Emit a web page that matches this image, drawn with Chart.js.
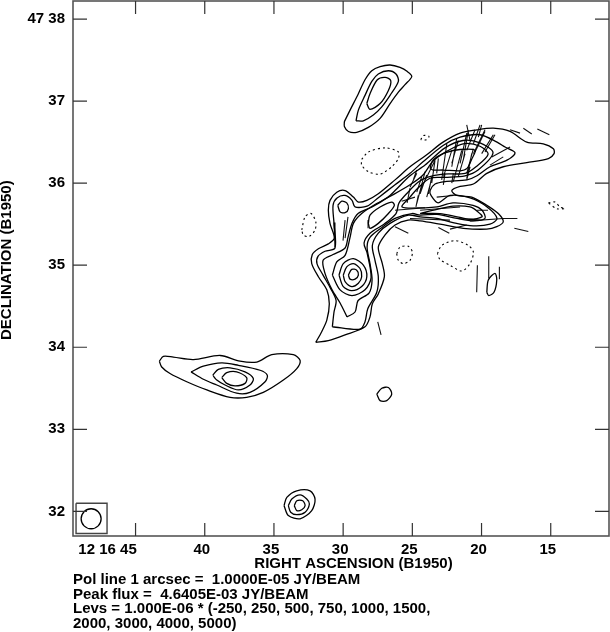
<!DOCTYPE html>
<html>
<head>
<meta charset="utf-8">
<title>Contour map</title>
<script src="https://cdn.jsdelivr.net/npm/chart.js@4/dist/chart.umd.min.js"></script>
<style>
    html, body { margin: 0; padding: 0; background: #fff; }
    #wrap { position: relative; width: 610px; height: 632px; overflow: hidden; }
    #notes { position: absolute; left: 73px; top: 572px; font: bold 15px/14.7px "Liberation Sans", sans-serif; color: #000; white-space: pre; }
</style>
</head>
<body>
<div id="wrap">
    <canvas id="grafikas" width="610" height="632"></canvas>
    <div id="notes"></div>
</div>
<script>
// right ascension in seconds (12 16 ss), declination in arcmin (47 mm)
const raTicks = [45, 40, 35, 30, 25, 20, 15];
const raTickLabels = ["12 16 45", "40", "35", "30", "25", "20", "15"];
const decTicks = [38, 37, 36, 35, 34, 33, 32];
const decTickLabels = ["47 38", "37", "36", "35", "34", "33", "32"];

const noteLines = [
    "Pol line 1 arcsec =  1.0000E-05 JY/BEAM",
    "Peak flux =  4.6405E-03 JY/BEAM",
    "Levs = 1.000E-06 * (-250, 250, 500, 750, 1000, 1500,",
    "2000, 3000, 4000, 5000)"
];

// north lobe
const northOuter = [[29.91,36.75],[29.50,36.89],[28.90,37.09],[28.42,37.26],[27.93,37.37],[27.33,37.42],[26.61,37.44],[25.89,37.41],[25.36,37.36],[25.04,37.30],[25.53,37.20],[26.01,37.11],[26.61,36.97],[27.33,36.79],[28.18,36.68],[29.02,36.62],[29.62,36.63],[29.91,36.69]];
const northMiddle = [[29.07,36.76],[28.90,36.89],[28.42,37.07],[27.93,37.24],[27.46,37.33],[26.73,37.37],[26.18,37.33],[26.01,37.24],[26.61,37.07],[27.21,36.93],[27.82,36.83],[28.54,36.76]];
const northInner = [[28.29,36.97],[28.06,37.09],[27.53,37.26],[26.97,37.29],[26.56,37.25],[26.73,37.13],[27.33,36.97],[28.06,36.90]];

// main source
const main250 = [[31.98,34.06],[31.55,34.19],[31.18,34.33],[31.00,34.53],[31.18,34.70],[31.79,34.86],[32.27,35.02],[32.23,35.13],[31.79,35.20],[31.07,35.26],[30.64,35.33],[30.95,35.51],[31.07,35.67],[30.95,35.79],[30.46,35.89],[29.86,35.91],[29.26,35.83],[28.90,35.77],[28.29,35.79],[27.46,35.87],[26.25,36.04],[25.17,36.20],[24.01,36.34],[22.78,36.50],[21.55,36.61],[20.35,36.65],[19.15,36.67],[17.94,36.63],[16.73,36.50],[15.54,36.48],[14.81,36.42],[14.76,36.36],[15.17,36.30],[16.73,36.25],[18.43,36.20],[19.62,36.12],[20.59,35.99],[21.55,35.96],[22.15,35.91],[21.79,35.85],[20.71,35.83],[19.62,35.73],[18.79,35.63],[18.43,35.53],[18.90,35.47],[19.62,35.44],[21.32,35.45],[23.00,35.50],[24.44,35.54],[25.31,35.55],[26.25,35.49],[26.97,35.37],[27.46,35.22],[27.17,35.02],[27.02,34.86],[27.46,34.65],[27.89,34.53],[28.06,34.37],[28.42,34.25],[29.86,34.15],[31.07,34.08]];
const main500 = [[30.78,34.25],[28.78,34.22],[28.42,34.31],[28.22,34.47],[27.57,34.67],[27.46,34.86],[27.70,35.06],[27.89,35.24],[27.46,35.39],[26.61,35.51],[25.29,35.61],[24.44,35.59],[23.24,35.57],[22.06,35.52],[20.61,35.48],[19.39,35.50],[18.88,35.57],[19.60,35.71],[20.83,35.82],[22.28,35.85],[23.14,35.76],[23.65,35.85],[23.72,35.91],[23.36,35.99],[22.64,36.02],[21.05,36.04],[20.33,36.09],[19.39,36.20],[18.16,36.28],[17.58,36.37],[18.30,36.44],[18.88,36.50],[20.11,36.59],[21.55,36.56],[22.78,36.46],[24.23,36.26],[25.17,36.12],[26.25,35.98],[27.48,35.82],[28.27,35.72],[29.14,35.71],[29.36,35.79],[29.86,35.85],[30.44,35.82],[30.73,35.73],[30.66,35.51],[30.59,35.21],[31.31,35.17],[31.81,35.11],[31.89,35.02],[31.45,34.88],[30.95,34.73],[30.51,34.57],[30.66,34.43]];
const main750 = [[29.72,34.37],[29.14,34.43],[28.92,34.57],[28.13,34.66],[27.91,34.82],[28.06,35.02],[28.27,35.22],[28.06,35.34],[27.19,35.46],[26.25,35.57],[25.02,35.63],[24.44,35.61],[23.22,35.62],[21.77,35.57],[20.61,35.54],[19.75,35.57],[19.96,35.67],[20.61,35.73],[22.06,35.76],[23.22,35.71],[24.08,35.70],[25.74,35.71],[25.17,35.83],[24.59,35.94],[23.72,36.06],[22.64,36.07],[21.19,36.09],[20.25,36.16],[19.17,36.37],[20.11,36.49],[21.34,36.52],[22.64,36.43],[24.08,36.22],[25.17,36.09],[26.25,35.91],[26.76,35.83],[27.91,35.71],[28.92,35.63],[29.36,35.51],[29.65,35.34],[29.86,35.21],[30.73,35.13],[31.45,35.06],[31.31,34.90],[30.80,34.70],[30.22,34.54]];
const main1000 = [[30.78,34.88],[30.46,35.04],[29.86,35.12],[29.50,35.34],[29.26,35.51],[28.66,35.63],[27.70,35.74],[26.49,35.85],[25.17,35.98],[24.23,36.10],[23.50,36.27],[22.49,36.39],[21.34,36.48],[20.11,36.45],[19.53,36.35],[20.40,36.20],[21.19,36.12],[22.78,36.11],[23.94,36.07],[24.59,36.01],[25.31,35.89],[25.96,35.76],[26.18,35.63],[27.05,35.50],[28.06,35.39],[28.49,35.27],[28.27,35.15],[27.98,34.85],[28.42,34.70],[29.36,34.63],[30.22,34.70]];
const peakRing2 = [[30.30,34.88],[29.99,35.02],[29.26,35.08],[28.54,35.00],[28.29,34.86],[28.66,34.74],[29.38,34.69],[29.99,34.74]];
const peakRing3 = [[29.99,34.88],[29.74,34.98],[29.26,35.02],[28.78,34.96],[28.66,34.86],[28.90,34.78],[29.38,34.74],[29.86,34.80]];
const peakRing4 = [[29.62,34.88],[29.38,34.95],[29.02,34.94],[28.90,34.88],[29.14,34.83],[29.50,34.83]];
const smallKnot = [[30.39,35.73],[30.10,35.78],[29.74,35.76],[29.62,35.69],[29.86,35.64],[30.22,35.65]];
const longKnot = [[28.18,35.51],[28.06,35.61],[27.33,35.71],[26.49,35.77],[26.30,35.73],[26.73,35.63],[27.46,35.51],[28.06,35.45]];
const jetKnot = [[23.72,36.18],[23.58,36.26],[23.22,36.32],[22.64,36.37],[21.55,36.41],[20.47,36.40],[20.69,36.30],[21.05,36.18],[21.55,36.15],[22.78,36.16],[23.50,36.16]];
const lowerJet = [[24.44,35.63],[23.22,35.68],[22.06,35.72],[20.83,35.71],[20.25,35.65],[19.96,35.59],[20.83,35.56],[21.77,35.59],[23.00,35.63]];
const vectorLoop = [[19.62,34.67],[19.51,34.82],[19.03,34.90],[18.90,34.82],[19.10,34.67],[19.48,34.63]];

// south west lobe
const southOuter = [[43.28,33.83],[42.99,33.89],[42.27,33.88],[40.82,33.85],[38.89,33.90],[37.45,33.83],[36.24,33.82],[35.16,33.91],[33.60,33.91],[33.11,33.84],[33.35,33.74],[34.32,33.60],[35.77,33.45],[36.97,33.39],[38.17,33.39],[39.85,33.48],[41.30,33.58],[42.51,33.68],[43.11,33.76]];
const southSecond = [[40.99,33.70],[40.10,33.77],[38.77,33.81],[37.57,33.78],[36.00,33.72],[35.48,33.66],[35.64,33.58],[36.73,33.45],[37.69,33.44],[39.13,33.54],[40.10,33.61]];
const southThird = [[39.42,33.66],[39.02,33.73],[38.17,33.75],[37.09,33.70],[36.49,33.62],[36.73,33.54],[37.57,33.48],[38.53,33.54],[39.13,33.60]];
const southInner = [[38.77,33.63],[38.41,33.69],[37.69,33.70],[36.97,33.63],[37.09,33.56],[37.81,33.53],[38.41,33.56]];
const tinySource = [[27.57,33.43],[27.21,33.50],[26.73,33.51],[26.49,33.43],[26.85,33.35],[27.33,33.35]];

// bottom source
const bottomOuter = [[34.27,32.07],[34.07,32.17],[33.35,32.25],[32.39,32.25],[32.03,32.15],[32.27,32.01],[33.11,31.91],[33.96,31.95]];
const bottomMiddle = [[33.96,32.07],[33.71,32.15],[33.11,32.20],[32.63,32.15],[32.44,32.09],[32.75,31.99],[33.35,31.96],[33.79,31.99]];
const bottomInner = [[33.53,32.07],[33.35,32.13],[32.92,32.13],[32.75,32.07],[32.99,32.02],[33.35,32.01]];

// negative level
const negLeft = [[32.99,35.43],[32.75,35.59],[32.32,35.63],[31.98,35.53],[32.03,35.43],[32.46,35.35],[32.88,35.37]];
const negMiddle = [[26.13,35.14],[25.89,35.22],[25.29,35.23],[25.00,35.16],[25.17,35.06],[25.65,35.02],[26.01,35.06]];
const negRight = [[23.19,35.14],[22.88,35.24],[21.92,35.30],[20.95,35.24],[20.59,35.16],[20.83,35.02],[21.43,34.93],[22.28,35.00],[23.00,35.07]];
const negFarRight = [[15.17,35.76],[14.69,35.77],[14.33,35.71],[13.97,35.69],[14.57,35.69]];
const negUpper = [[28.66,36.29],[28.18,36.38],[26.97,36.43],[26.01,36.38],[26.01,36.30],[26.49,36.20],[27.33,36.11],[28.18,36.14],[28.66,36.22]];
const negTiny = [[24.39,36.53],[24.21,36.58],[23.80,36.57],[23.96,36.53]];

// polarization vectors: ra1, dec1, ra2, dec2
const polVectors = [
    [21.07,36.71,20.83,36.52],[20.11,36.71,20.59,36.48],[19.75,36.63,20.47,36.38],[19.15,36.59,19.99,36.36],
    [20.95,36.65,21.32,36.28],[21.79,36.55,22.15,36.20],[22.51,36.48,22.88,36.04],[21.43,36.40,22.04,36.02],
    [20.71,36.36,21.07,36.06],[23.36,36.28,24.44,35.91],[24.08,36.14,24.68,35.75],[23.60,36.08,23.84,35.87],
    [24.68,36.12,25.17,35.95],[17.94,36.44,19.26,36.32],[18.43,36.32,19.39,36.22],[17.94,36.65,17.22,36.61],
    [16.98,36.67,16.37,36.60],[15.97,36.66,15.10,36.59],[18.43,35.57,17.41,35.57],[17.63,35.45,16.62,35.41],
    [23.12,35.46,22.33,35.39],[22.28,35.44,21.07,35.49],[23.24,35.83,22.04,35.85],[24.44,35.67,21.55,35.71],
    [25.17,35.57,22.28,35.55],[20.83,35.54,18.43,35.57],[30.66,35.52,30.59,35.22],[29.86,35.55,30.01,35.30],
    [29.65,35.59,29.86,35.33],[28.20,35.55,28.20,35.45],[26.25,35.67,24.08,35.70],[26.25,35.47,25.29,35.39],
    [25.77,35.78,24.81,35.83],[25.17,35.94,25.38,35.76],[27.50,34.31,27.26,34.15],[20.30,35.00,20.35,34.67],
    [19.48,35.11,19.48,34.84],[18.71,34.98,18.71,34.83],
    [19.99,36.71,20.23,36.56],[20.47,36.65,21.07,36.40],[19.75,36.65,20.59,36.36],[19.03,36.59,19.75,36.38],
    [21.07,36.61,21.55,36.24],[21.68,36.52,22.15,36.24],[20.59,36.42,21.07,36.12],[21.19,36.36,21.68,36.08],
    [22.15,36.40,22.75,36.08],[23.36,36.28,23.60,36.00],[23.96,36.10,24.44,35.87],[24.32,36.08,24.68,35.89],
    [24.68,36.16,24.93,36.04],[22.64,36.12,22.76,35.98],[22.04,36.12,22.15,36.00],[20.83,36.20,21.07,36.04],
    [23.72,35.98,23.96,35.83],[24.57,35.85,24.74,35.71],[23.12,36.30,23.24,36.12],[21.77,35.57,19.90,35.55],
    [20.33,35.67,19.53,35.67]
];

const beamBox = [[49.30,32.10],[47.06,32.10],[47.06,31.73],[49.30,31.73],[49.30,32.10]];
const beamCentre = [[48.21,31.91]];

const closedContours = [
    northOuter, northMiddle, northInner, main250, main500, main750, main1000,
    peakRing2, peakRing3, peakRing4, smallKnot, longKnot, jetKnot, lowerJet, vectorLoop,
    southOuter, southSecond, southThird, southInner, tinySource,
    bottomOuter, bottomMiddle, bottomInner
];
const dashedContours = [negLeft, negMiddle, negRight, negFarRight, negUpper, negTiny];

function toPoints(arr) {
    return arr.map(p => ({ x: p[0], y: p[1] }));
}

function closed(arr) {
    return toPoints(arr.concat([arr[0]]));
}

const datasets = [];

closedContours.forEach(c => {
    datasets.push({ data: closed(c), showLine: true, borderColor: "#000", borderWidth: 1.3, tension: 0.3, pointRadius: 0, fill: false });
});
dashedContours.forEach(c => {
    datasets.push({ data: closed(c), showLine: true, borderColor: "#000", borderWidth: 1.1, borderDash: [2, 3], tension: 0.3, pointRadius: 0, fill: false });
});

// one gap between each vector
const vectorPoints = [];
polVectors.forEach(v => {
    vectorPoints.push({ x: v[0], y: v[1] }, { x: v[2], y: v[3] }, { x: NaN, y: NaN });
});
datasets.push({ data: vectorPoints, showLine: true, spanGaps: false, borderColor: "#111", borderWidth: 1.1, tension: 0, pointRadius: 0 });

datasets.push({ data: toPoints(beamBox), showLine: true, borderColor: "#444", borderWidth: 1.4, tension: 0, pointRadius: 0 });
datasets.push({ data: toPoints(beamCentre), showLine: false, pointRadius: 10, pointBorderColor: "#000", pointBorderWidth: 1.3, pointBackgroundColor: "transparent" });

// frame and inward ticks on all four sides
const frameTicks = {
    id: "frameTicks",
    afterDatasetsDraw(chart) {
        const { ctx, chartArea: a, scales } = chart;
        ctx.save();
        ctx.strokeStyle = "#555";
        ctx.lineWidth = 1.6;
        ctx.strokeRect(a.left, a.top, a.right - a.left, a.bottom - a.top);
        ctx.lineWidth = 1.2;
        ctx.strokeStyle = "#333";
        ctx.beginPath();
        raTicks.forEach(v => {
            const px = scales.x.getPixelForValue(v);
            ctx.moveTo(px, a.bottom); ctx.lineTo(px, a.bottom - 13);
            ctx.moveTo(px, a.top); ctx.lineTo(px, a.top + 13);
        });
        decTicks.forEach(v => {
            const py = scales.y.getPixelForValue(v);
            ctx.moveTo(a.left, py); ctx.lineTo(a.left + 14, py);
            ctx.moveTo(a.right, py); ctx.lineTo(a.right - 14, py);
        });
        ctx.stroke();
        ctx.restore();
    }
};

const labelFont = { family: "'Liberation Sans', sans-serif", size: 15, weight: "bold" };
const pad = n => "\u00a0".repeat(n);

// no label overhang, the plot box must stay where it is
function clearPadding(axis) {
    axis.paddingLeft = 0;
    axis.paddingRight = 0;
    axis.paddingTop = 0;
    axis.paddingBottom = 0;
}

new Chart(document.getElementById("grafikas"), {
    type: "scatter",
    data: { datasets: datasets },
    plugins: [frameTicks],
    options: {
        responsive: false,
        animation: false,
        layout: { autoPadding: false, padding: { top: 1, right: 1, left: 0, bottom: 0 } },
        plugins: { legend: { display: false }, tooltip: { enabled: false } },
        scales: {
            x: {
                type: "linear",
                reverse: true,
                min: 10.79,
                max: 49.52,
                grid: { display: false, drawTicks: false },
                border: { display: false },
                afterBuildTicks: axis => { axis.ticks = raTicks.map(v => ({ value: v })); },
                afterFit: axis => { axis.height = 96; clearPadding(axis); },
                ticks: {
                    autoSkip: false,
                    maxRotation: 0,
                    minRotation: 0,
                    color: "#000",
                    font: labelFont,
                    padding: 5,
                    labelOffset: -3,
                    callback: (value) => {
                        const label = raTickLabels[raTicks.indexOf(value)];
                        return value === 45 ? label + pad(12) : label;
                    }
                },
                title: {
                    display: true,
                    text: pad(6) + "RIGHT ASCENSION (B1950)",
                    color: "#000",
                    font: labelFont,
                    padding: { top: 0, bottom: 59 }
                }
            },
            y: {
                type: "linear",
                min: 31.70,
                max: 38.22,
                grid: { display: false, drawTicks: false },
                border: { display: false },
                afterBuildTicks: axis => { axis.ticks = decTicks.map(v => ({ value: v })); },
                afterFit: axis => { axis.width = 73; clearPadding(axis); },
                ticks: {
                    autoSkip: false,
                    color: "#000",
                    font: labelFont,
                    padding: 8,
                    callback: (value) => decTickLabels[decTicks.indexOf(value)]
                },
                title: {
                    display: true,
                    text: pad(4) + "DECLINATION (B1950)",
                    color: "#000",
                    font: labelFont,
                    padding: { top: -2, bottom: 0 }
                }
            }
        }
    }
});

document.getElementById("notes").textContent = noteLines.join("\n");
</script>
</body>
</html>
